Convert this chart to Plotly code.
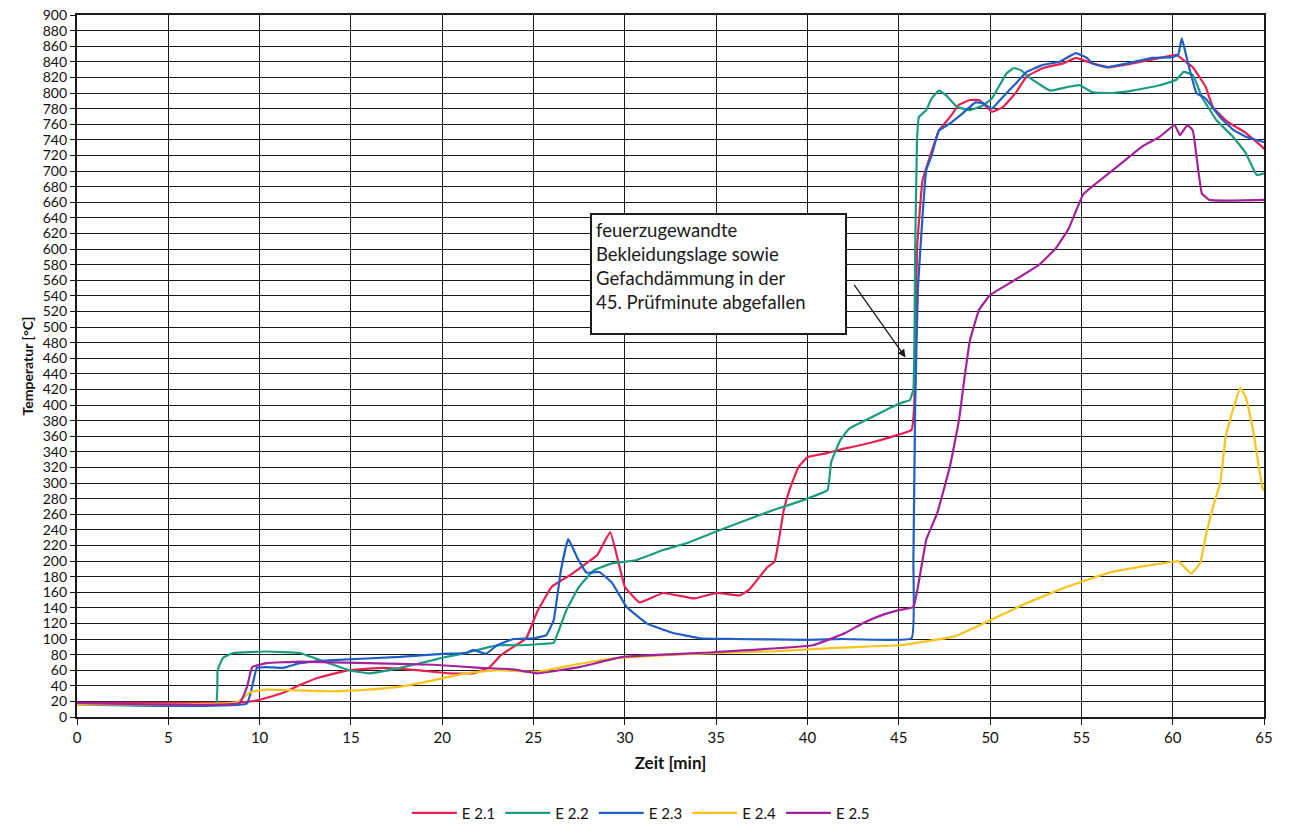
import plotly.graph_objects as go

# ---------------- data ----------------
E21_x = [0, 8.5, 9.5, 10, 11.3, 12.2, 13.3, 14.9, 16.8, 18.6, 20.4, 21.7, 22.6, 23.2, 23.9, 24.6, 25.2, 26, 27, 28,
         28.5, 29.2, 30, 30.8, 32.1, 33.8, 35, 36.3, 36.8, 37.8, 38.2, 38.7, 39, 39.5, 40, 41, 42, 43, 44, 45,
         45.7, 45.85, 46.0, 46.3, 46.7, 47.2, 47.8, 48.3, 48.9, 49.4, 50.1, 50.7, 51.4, 52, 52.9, 54, 54.7, 55.6,
         56.5, 57.8, 59.3, 60.2, 60.6, 61.1, 61.8, 62.2, 62.9, 63.5, 64, 64.9, 65]
E21_y = [18, 18, 20, 22, 31, 41, 51, 60, 63, 60, 56, 56, 64, 79, 90, 101, 135, 167, 182, 199,
         208, 237, 167, 147, 159, 152, 159, 156, 163, 192, 199, 265, 290, 320, 333, 338, 344, 349, 355, 362,
         368, 400, 600, 688, 718, 752, 769, 785, 791, 791, 776, 782, 800, 821, 832, 838, 845, 838,
         833, 838, 845, 849, 842, 833, 808, 782, 765, 756, 749, 731, 728]

E22_x = [0, 7.6, 7.7, 8.0, 8.55, 10.4, 12.2, 13.3, 14.9, 16.0, 17.7, 19.5, 20.0, 21.3, 22.6, 23.2, 24.4, 25.7,
         26.1, 26.8, 27.5, 28.3, 29.3, 30.6, 32.1, 33.4, 34.8, 36.7, 38.1, 39, 40, 41.1, 41.3, 41.8, 42.3, 43.4,
         44.5, 45.3, 45.6, 45.8, 45.9, 46.0, 46.1, 46.5, 46.8, 47.2, 47.6, 48.2, 48.9, 49.6, 50.1, 50.9, 51.3,
         51.7, 52.2, 53.3, 54.3, 54.9, 55.6, 56.7, 57.8, 59.3, 60.2, 60.6, 61.1, 61.6, 62.4, 63.3, 64.0, 64.6, 65]
E22_y = [17, 17, 60, 76, 82, 84, 82, 73, 60, 56, 63, 73, 76, 82, 90, 92, 92, 94,
         95, 137, 167, 188, 197, 201, 214, 223, 236, 253, 265, 272, 280, 291, 327, 355, 370, 383,
         396, 404, 406, 420, 600, 740, 769, 778, 793, 803, 797, 782, 778, 784, 793, 825, 832,
         829, 819, 803, 808, 810, 801, 800, 803, 810, 817, 827, 823, 795, 765, 744, 723, 695, 697]

E23_x = [0, 9.3, 9.6, 9.85, 10.4, 11.3, 12.2, 14.0, 17.7, 20.0, 21.3, 21.7, 22.4, 23.0, 23.9, 25.0, 25.7, 26.1,
         26.5, 26.9, 27.4, 27.9, 28.6, 29.3, 30.1, 31.2, 32.6, 34.1, 36, 40, 42, 45.7, 45.8, 45.9, 46.05, 46.25,
         46.5, 46.8, 47.2, 47.8, 48.5, 49.2, 49.6, 50.1, 50.7, 51.4, 52.0, 52.9, 53.8, 54.7, 55.3, 55.6, 56.4,
         57.5, 58.9, 60.0, 60.3, 60.5, 60.8, 61.3, 61.8, 62.6, 63.3, 64.0, 65]
E23_y = [16, 17, 40, 63, 64, 63, 69, 73, 77, 81, 82, 86, 81, 92, 100, 101, 105, 124,
         188, 228, 204, 185, 186, 172, 141, 120, 108, 101, 100, 99, 100, 101, 200, 400, 550, 624,
         701, 720, 752, 761, 774, 788, 787, 780, 795, 812, 827, 836, 840, 851, 845, 838, 833,
         838, 845, 846, 849, 870, 842, 800, 793, 769, 753, 744, 737]

E24_x = [0, 8.75, 9.5, 10.4, 14.0, 15.9, 17.7, 19.5, 21.3, 23.0, 25.2, 27, 29.3, 32, 34.8, 38, 40.3, 42.9, 45.0,
         48.0, 50.0, 52.0, 54.0, 56.5, 58.6, 60.0, 60.3, 61.0, 61.5, 61.8, 62.2, 62.6, 62.9, 63.3, 63.7, 64.0,
         64.4, 64.9, 65]
E24_y = [16, 19, 32, 35, 33, 35, 39, 47, 56, 60, 58, 66, 75, 79, 82, 84, 87, 90, 92,
         103, 124, 146, 165, 185, 194, 199, 200, 184, 197, 231, 269, 300, 359, 394, 422, 410,
         368, 295, 290]

E25_x = [0, 8.9, 9.3, 9.6, 10.4, 12.2, 15.9, 19.5, 22.1, 23.9, 25.2, 27.5, 29.9, 34.8, 40.3, 42.1, 43, 44, 45,
         45.8, 46.5, 47.1, 47.8, 48.3, 48.6, 48.9, 49.4, 50, 51.2, 52.7, 53.6, 54.3, 55.1, 55.8, 57.3, 58.3,
         59.3, 60.1, 60.4, 60.8, 61.1, 61.4, 61.6, 62.0, 62.9, 65]
E25_y = [18, 18, 38, 64, 69, 71, 69, 67, 63, 61, 56, 64, 77, 83, 92, 108, 120, 130, 137,
         141, 227, 261, 321, 381, 435, 483, 522, 541, 558, 580, 601, 626, 670, 684, 712, 731,
         744, 759, 746, 759, 752, 701, 671, 663, 662, 663]

SERIES = ["E 2.1", "E 2.2", "E 2.3", "E 2.4", "E 2.5"]
COLORS = ["#e8204f", "#1b9c80", "#1f5fc6", "#f6c41a", "#a3229c"]

X_TICKS = list(range(0, 66, 5))
Y_TICKS = list(range(0, 901, 20))

NOTE_TEXT = ["feuerzugewandte", "Bekleidungslage sowie", "Gefachdämmung in der", "45. Prüfminute abgefallen"]
NOTE_POS = (28.1, 646)        # top-left of the text box (data coords)
ARROW_HEAD = (45.37, 461)
ARROW_TAIL = (42.5, 556)

FONT = "Lato, 'Open Sans', sans-serif"

# ---------------- figure ----------------
fig = go.Figure()
data = [(E21_x, E21_y), (E22_x, E22_y), (E23_x, E23_y), (E24_x, E24_y), (E25_x, E25_y)]
for name, col, (xs, ys) in zip(SERIES, COLORS, data):
    fig.add_trace(go.Scatter(x=xs, y=ys, mode="lines", name=name,
                             line=dict(color=col, width=2.2, shape="spline", smoothing=0.3)))

fig.add_annotation(x=NOTE_POS[0], y=NOTE_POS[1], xref="x", yref="y",
                   xanchor="left", yanchor="top", showarrow=False,
                   text="<br>".join(NOTE_TEXT), align="left", valign="top",
                   width=245, height=110, borderpad=4,
                   bordercolor="#1a1a1a", borderwidth=2, bgcolor="white",
                   font=dict(family=FONT, size=18.5, color="#1a1a1a"))
fig.add_annotation(x=ARROW_HEAD[0], y=ARROW_HEAD[1], ax=ARROW_TAIL[0], ay=ARROW_TAIL[1],
                   xref="x", yref="y", axref="x", ayref="y", text="",
                   showarrow=True, arrowhead=2, arrowsize=1.2, arrowwidth=1.3, arrowcolor="#1a1a1a")

fig.update_layout(
    width=1289, height=826,
    margin=dict(l=77, r=25, t=15, b=109, autoexpand=False),
    paper_bgcolor="white", plot_bgcolor="white",
    font=dict(family=FONT, color="#111"),
    showlegend=True,
    legend=dict(orientation="h", x=0.475, xanchor="center", y=-0.137, yanchor="middle",
                font=dict(size=15, family=FONT, color="#111"), itemwidth=45,
                traceorder="normal"),
)
fig.update_xaxes(range=[0, 65], tickvals=X_TICKS, ticktext=[str(v) for v in X_TICKS],
                 automargin=False, ticklabeloverflow="allow",
                 showgrid=True, gridcolor="#1a1a1a", gridwidth=1.4,
                 showline=True, linecolor="#1a1a1a", linewidth=1.6, mirror=True,
                 ticks="outside", ticklen=6, tickcolor="#1a1a1a", zeroline=False,
                 tickfont=dict(size=15, family=FONT, color="#111"),
                 title=dict(text="<b>Zeit [min]</b>", font=dict(size=17, family=FONT, color="#111"), standoff=12))
fig.update_yaxes(range=[0, 900], tickvals=Y_TICKS, ticktext=[str(v) for v in Y_TICKS],
                 automargin=False, ticklabeloverflow="allow",
                 showgrid=True, gridcolor="#1a1a1a", gridwidth=1.4,
                 showline=True, linecolor="#1a1a1a", linewidth=2.2, mirror=True,
                 ticks="outside", ticklen=5, tickcolor="#1a1a1a", zeroline=False,
                 tickfont=dict(size=14, family=FONT, color="#111"),
                 title=dict(text="<b>Temperatur [°C]</b>", font=dict(size=14, family=FONT, color="#111"), standoff=6))

# remove the default page margin so the figure fills the window exactly
fig.write_html("out.html", config={"displayModeBar": False},
               post_script="document.body.style.margin='0';")
